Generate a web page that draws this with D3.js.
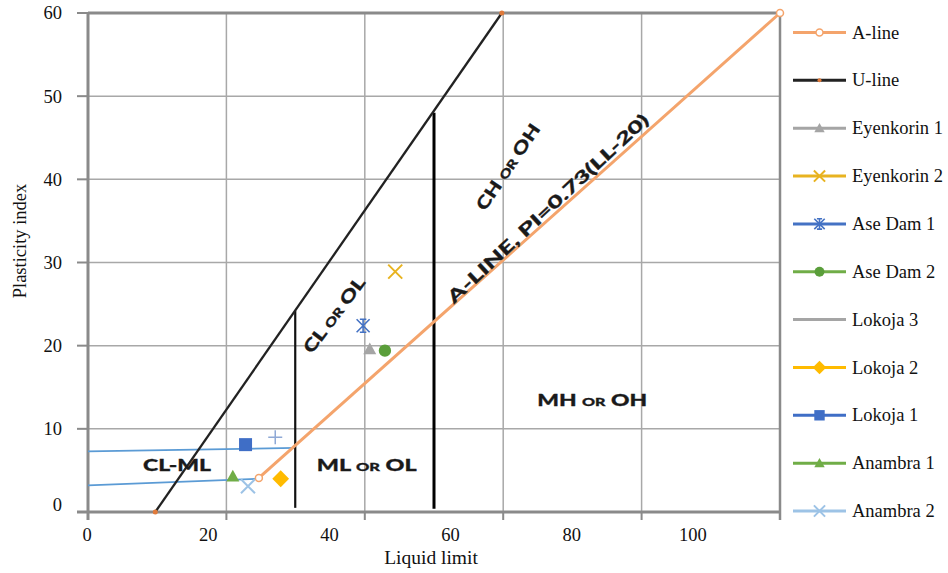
<!DOCTYPE html>
<html><head><meta charset="utf-8">
<script src="https://cdn.jsdelivr.net/npm/d3@7"></script>
<style>body{margin:0;background:#fff}</style></head>
<body><svg id="c" width="948" height="573"></svg>
<script>
// ---- data ----
const xTickLabels = [0, 20, 40, 60, 80, 100];
const yTickLabels = [0, 10, 20, 30, 40, 50, 60];
const xMax = 114.2;            // liquid limit at right frame
const gridCount = 5;           // vertical grid divisions
const aLine = [[28.2, 4.1], [114.2, 60]];
const uLine = [[11.1, 0], [68.3, 60]];
const divideLow = [[34.2, 0.5], [34.2, 24.2]];
const divideHigh = [[57.1, 0.4], [57.1, 48]];
const clmlUpper = [[0, 7.3], [34.3, 7.7]];
const clmlLower = [[0, 3.2], [28.2, 4.0]];
const sampleNames = ["Eyenkorin 1", "Eyenkorin 2", "Ase Dam 1", "Ase Dam 2", "Lokoja 3", "Lokoja 2", "Lokoja 1", "Anambra 1", "Anambra 2"];
const sampleLL = [46.5, 50.7, 45.4, 49.0, 30.9, 31.8, 26.0, 23.9, 26.4];
const samplePI = [19.6, 28.9, 22.4, 19.4, 9.0, 4.0, 8.1, 4.3, 3.1];
const legendNames = ["A-line", "U-line"].concat(sampleNames);
const zoneLabels = [
  {parts: ["CL-ML"], ll: 14.7, pi: 5.65, rot: 0, len: 68},
  {parts: ["ML ", "OR", " OL"], ll: 46.0, pi: 5.65, rot: 0, len: 100},
  {parts: ["MH ", "OR", " OH"], ll: 83.2, pi: 13.5, rot: 0, len: 110},
  {parts: ["CL ", "OR", " OL"], ll: 40.6, pi: 23.7, rot: -53, len: 90},
  {parts: ["CH ", "OR", " OH"], ll: 69.3, pi: 41.5, rot: -56, len: 100},
  {parts: ["A-LINE, PI=0.73(LL-20)"], ll: 75.9, pi: 36.5, rot: -43, len: 268}
];

// ---- styles ----
const colors = {
  "A-line": "#f4a46c", "U-line": "#222222",
  "Eyenkorin 1": "#a5a5a5", "Eyenkorin 2": "#e8b320", "Ase Dam 1": "#4472c4",
  "Ase Dam 2": "#5a9e3a", "Lokoja 3": "#8fa9d6", "Lokoja 2": "#ffbb00",
  "Lokoja 1": "#3f6ec6", "Anambra 1": "#70ad47", "Anambra 2": "#9dc3e6"
};
const legendLineColors = Object.assign({}, colors, {"Lokoja 3": "#a5a5a5", "Ase Dam 2": "#70ad47"});
const shapes = {
  "Eyenkorin 1": "tri", "Eyenkorin 2": "x", "Ase Dam 1": "star", "Ase Dam 2": "circle",
  "Lokoja 3": "plus", "Lokoja 2": "diamond", "Lokoja 1": "square", "Anambra 1": "tri", "Anambra 2": "x"
};

const svg = d3.select("#c");
const x = d3.scaleLinear().domain([0, xMax]).range([88, 780]);
const y = d3.scaleLinear().domain([0, 60]).range([512, 13]);
const serif = "'Liberation Serif','Times New Roman',serif";
const bold = "Lato, 'Open Sans', sans-serif";
const line = d3.line().x(d => x(d[0])).y(d => y(d[1]));
const gridX = d3.range(gridCount + 1).map(i => i * xMax / gridCount);

// grid
svg.append("g").selectAll("line").data(gridX).join("line")
  .attr("x1", d => x(d)).attr("x2", d => x(d)).attr("y1", y(60)).attr("y2", y(0))
  .attr("stroke", "#a8a8a8").attr("stroke-width", 1.5);
svg.append("g").selectAll("line").data(yTickLabels).join("line")
  .attr("x1", x(0)).attr("x2", x(xMax)).attr("y1", d => y(d)).attr("y2", d => y(d))
  .attr("stroke", "#a8a8a8").attr("stroke-width", 1.5);

// frame
const fr = svg.append("g").attr("stroke", "#8a8a8a").attr("stroke-width", 3).attr("fill", "none");
fr.append("line").attr("x1", x(0)).attr("x2", x(xMax)).attr("y1", y(60)).attr("y2", y(60));
fr.append("line").attr("x1", x(xMax)).attr("x2", x(xMax)).attr("y1", y(60)).attr("y2", y(0) + 8).attr("stroke-width", 2.5);
fr.append("line").attr("x1", x(0)).attr("x2", x(0)).attr("y1", y(60)).attr("y2", y(0) + 8);
fr.append("line").attr("x1", x(0) - 11).attr("x2", x(xMax)).attr("y1", y(0)).attr("y2", y(0));
// ticks
fr.selectAll(".yt").data(yTickLabels).join("line").attr("class", "yt")
  .attr("x1", x(0) - 11).attr("x2", x(0)).attr("y1", d => y(d)).attr("y2", d => y(d)).attr("stroke-width", 2);
fr.selectAll(".xt").data(gridX).join("line").attr("class", "xt")
  .attr("x1", d => x(d)).attr("x2", d => x(d)).attr("y1", y(0)).attr("y2", y(0) + 8).attr("stroke-width", 2);

// tick labels
svg.append("g").selectAll("text").data(yTickLabels).join("text")
  .attr("x", 62).attr("y", d => y(d) + (d === 0 ? -7 : 0)).attr("dy", "0.35em")
  .attr("text-anchor", "end").attr("font-family", serif).attr("font-size", 18.5).attr("fill", "#111")
  .text(d => d);
svg.append("g").selectAll("text").data(xTickLabels).join("text")
  .attr("x", d => x(d) - 1).attr("y", 541)
  .attr("text-anchor", "middle").attr("font-family", serif).attr("font-size", 18.5).attr("fill", "#111")
  .text(d => d);
svg.append("text").attr("x", 431).attr("y", 564).attr("text-anchor", "middle")
  .attr("font-family", serif).attr("font-size", 19.5).attr("fill", "#111").text("Liquid limit");
svg.append("text").attr("transform", "translate(26,241) rotate(-90)").attr("text-anchor", "middle")
  .attr("font-family", serif).attr("font-size", 18.5).attr("fill", "#111").text("Plasticity index");

// boundary lines
[clmlUpper, clmlLower].forEach(p => svg.append("path").attr("d", line(p))
  .attr("stroke", "#5b9bd5").attr("stroke-width", 1.8).attr("fill", "none"));
svg.append("path").attr("d", line(divideLow)).attr("stroke", "#111").attr("stroke-width", 2.2);
svg.append("path").attr("d", line(divideHigh)).attr("stroke", "#000").attr("stroke-width", 3);
svg.append("path").attr("d", line(uLine)).attr("stroke", colors["U-line"]).attr("stroke-width", 2.3).attr("fill", "none");
svg.append("path").attr("d", line(aLine)).attr("stroke", colors["A-line"]).attr("stroke-width", 3).attr("fill", "none");
svg.append("g").selectAll("circle").data(aLine).join("circle")
  .attr("cx", d => x(d[0])).attr("cy", d => y(d[1])).attr("r", 3.5)
  .attr("fill", "#fff").attr("stroke", colors["A-line"]).attr("stroke-width", 1.5);
svg.append("g").selectAll("circle").data(uLine).join("circle")
  .attr("cx", d => x(d[0])).attr("cy", d => y(d[1])).attr("r", 2.5).attr("fill", "#e07a3a");

// marker drawing
function marker(g, shape, color, s) {
  if (shape === "tri") g.append("path").attr("d", `M0,${-s}L${s},${s * 0.8}L${-s},${s * 0.8}Z`).attr("fill", color);
  else if (shape === "circle") g.append("circle").attr("r", s * 0.95).attr("fill", color);
  else if (shape === "square") g.append("rect").attr("x", -s).attr("y", -s).attr("width", 2 * s).attr("height", 2 * s).attr("fill", color);
  else if (shape === "diamond") g.append("path").attr("d", `M0,${-s * 1.2}L${s * 1.2},0L0,${s * 1.2}L${-s * 1.2},0Z`).attr("fill", color);
  else if (shape === "x") g.append("path").attr("d", `M${-s},${-s}L${s},${s}M${-s},${s}L${s},${-s}`).attr("stroke", color).attr("stroke-width", 2);
  else if (shape === "plus") g.append("path").attr("d", `M${-s},0L${s},0M0,${-s}L0,${s}`).attr("stroke", color).attr("stroke-width", 1.5);
  else if (shape === "star") g.append("path").attr("d", `M${-s},${-s}L${s},${s}M${-s},${s}L${s},${-s}M0,${-s}L0,${s}M${-s * 0.5},${-s}L${s * 0.5},${-s}M${-s * 0.5},${s}L${s * 0.5},${s}`)
    .attr("stroke", color).attr("stroke-width", 1.6);
}
const sizes = {"tri": 6.5, "x": 7, "star": 6.5, "circle": 6.5, "plus": 7, "diamond": 7, "square": 6.5};
sampleNames.forEach((n, i) => {
  const g = svg.append("g").attr("transform", `translate(${x(sampleLL[i])},${y(samplePI[i])})`);
  marker(g, shapes[n], colors[n], sizes[shapes[n]]);
});

// zone labels
zoneLabels.forEach(l => {
  const t = svg.append("text")
    .attr("transform", `translate(${x(l.ll)},${y(l.pi)}) rotate(${l.rot})`)
    .attr("text-anchor", "middle").attr("dy", "0.36em")
    .attr("font-family", bold).attr("font-weight", 900).attr("font-size", 17).attr("fill", "#1a1a1a")
    .attr("stroke", "#1a1a1a").attr("stroke-width", 0.3)
    .attr("textLength", l.len).attr("lengthAdjust", "spacingAndGlyphs");
  l.parts.forEach(p => t.append("tspan").attr("font-size", p === "OR" ? 12 : 17).text(p));
});

// legend
const ly = d3.scalePoint().domain(legendNames).range([32.5, 511]);
const lg = svg.append("g");
legendNames.forEach(n => {
  const yy = ly(n);
  lg.append("line").attr("x1", 793).attr("x2", 846).attr("y1", yy).attr("y2", yy)
    .attr("stroke", legendLineColors[n]).attr("stroke-width", 3);
  const g = lg.append("g").attr("transform", `translate(819.5,${yy})`);
  if (n === "A-line") g.append("circle").attr("r", 3.5).attr("fill", "#fff").attr("stroke", colors[n]).attr("stroke-width", 1.5);
  else if (n === "U-line") g.append("circle").attr("r", 2).attr("fill", "#e07a3a");
  else if (n !== "Lokoja 3") marker(g, shapes[n], colors[n], sizes[shapes[n]] * 0.8);
  lg.append("text").attr("x", 852).attr("y", yy).attr("dy", "0.33em")
    .attr("font-family", serif).attr("font-size", 18.5).attr("fill", "#111").text(n);
});
</script></body></html>
